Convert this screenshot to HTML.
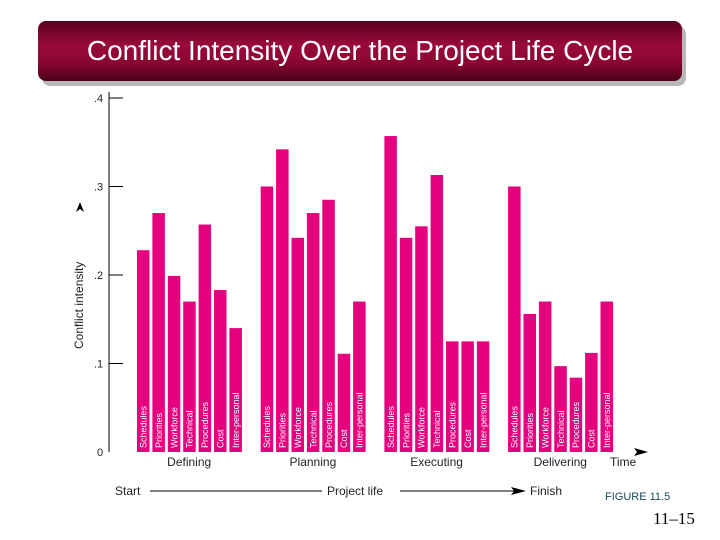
<!DOCTYPE html>
<html><head><meta charset="utf-8"><style>
body{margin:0;width:720px;height:540px;background:#fff;overflow:hidden;font-family:"Liberation Sans",sans-serif;position:relative}
#title{position:absolute;left:38px;top:21px;width:644px;height:60px;border-radius:8px;background:linear-gradient(#5a0020,#9a0a3a 40%,#8a0632 70%,#4a0018);color:#fff;font-size:28px;text-align:center;line-height:60px;box-shadow:4px 5px 0 #b8b8b8}
</style></head><body>
<div id="title">Conflict Intensity Over the Project Life Cycle</div>
<svg id="chart" width="720" height="540" style="position:absolute;left:0;top:0"></svg>
<script>
const phases=["Defining","Planning","Executing","Delivering"];
const categories=["Schedules","Priorities","Workforce","Technical","Procedures","Cost","Inter-personal"];
const defining=[0.228,0.270,0.199,0.170,0.257,0.183,0.140];
const planning=[0.300,0.342,0.242,0.270,0.285,0.111,0.170];
const executing=[0.357,0.242,0.255,0.313,0.125,0.125,0.125];
const delivering=[0.300,0.156,0.170,0.097,0.084,0.112,0.170];
const yTicks=[0,0.1,0.2,0.3,0.4];
const yTickLabels=["0",".1",".2",".3",".4"];
const series=[defining,planning,executing,delivering];
const svg=document.getElementById('chart');const NS="http://www.w3.org/2000/svg";
function y(v){return 452-v*885;}
function x(p,i){return 137+p*123.7+i*15.4;}
function mk(t,a,txt){const e=document.createElementNS(NS,t);for(const k in a)e.setAttribute(k,a[k]);if(txt!==undefined)e.textContent=txt;svg.appendChild(e);return e;}
let e=mk('line',{x1:109,y1:92,x2:109,y2:452,stroke:'#000','stroke-width':1});


yTicks.forEach((t,i)=>{
  if(i>0){e=mk('line',{x1:109,y1:y(t),x2:123,y2:y(t),stroke:'#000'});
  
  }
  e=mk('text',{x:i==0?97:94,y:y(t)+4,'font-size':11,fill:'#222'},yTickLabels[i]);
  
  
});
e=mk('text',{transform:'translate(83,349) rotate(-90)','font-size':12,fill:'#222'},'Conflict intensity');


e=mk('polygon',{points:'80,202 76,212 80,209 84,212',fill:'#000'});


series.forEach((s,p)=>{
  s.forEach((v,i)=>{
    const bx=x(p,i);
    e=mk('rect',{x:bx,y:y(v),width:12.5,height:452-y(v),fill:'#e5007d'});
    
    
    e=mk('text',{transform:`translate(${bx+9.5},448) rotate(-90)`,'font-size':9,fill:'#fff'},categories[i]);
    
    
  });
  e=mk('text',{x:x(p,3)+6,y:466,'font-size':12,fill:'#222','text-anchor':'middle'},phases[p]);
  
  
});
e=mk('text',{x:610,y:466,'font-size':12,fill:'#222'},'Time');


e=mk('polygon',{points:'648,452 634,448 637,452 634,456',fill:'#000'});


e=mk('text',{x:115,y:495,'font-size':12,fill:'#222'},'Start');


e=mk('line',{x1:150,y1:491,x2:322,y2:491,stroke:'#000'});


e=mk('text',{x:327,y:495,'font-size':12,fill:'#222'},'Project life');


e=mk('line',{x1:400,y1:491,x2:515,y2:491,stroke:'#000'});


e=mk('polygon',{points:'526,491 511,487 514,491 511,495',fill:'#000'});


e=mk('text',{x:530,y:495,'font-size':12,fill:'#222'},'Finish');


e=mk('text',{x:605,y:500,'font-size':11,fill:'#1a4a5a'},'FIGURE 11.5');


e=mk('text',{x:653,y:524,'font-size':17,fill:'#000','font-family':'Liberation Serif,serif'},'11–15');


</script>
</body></html>
